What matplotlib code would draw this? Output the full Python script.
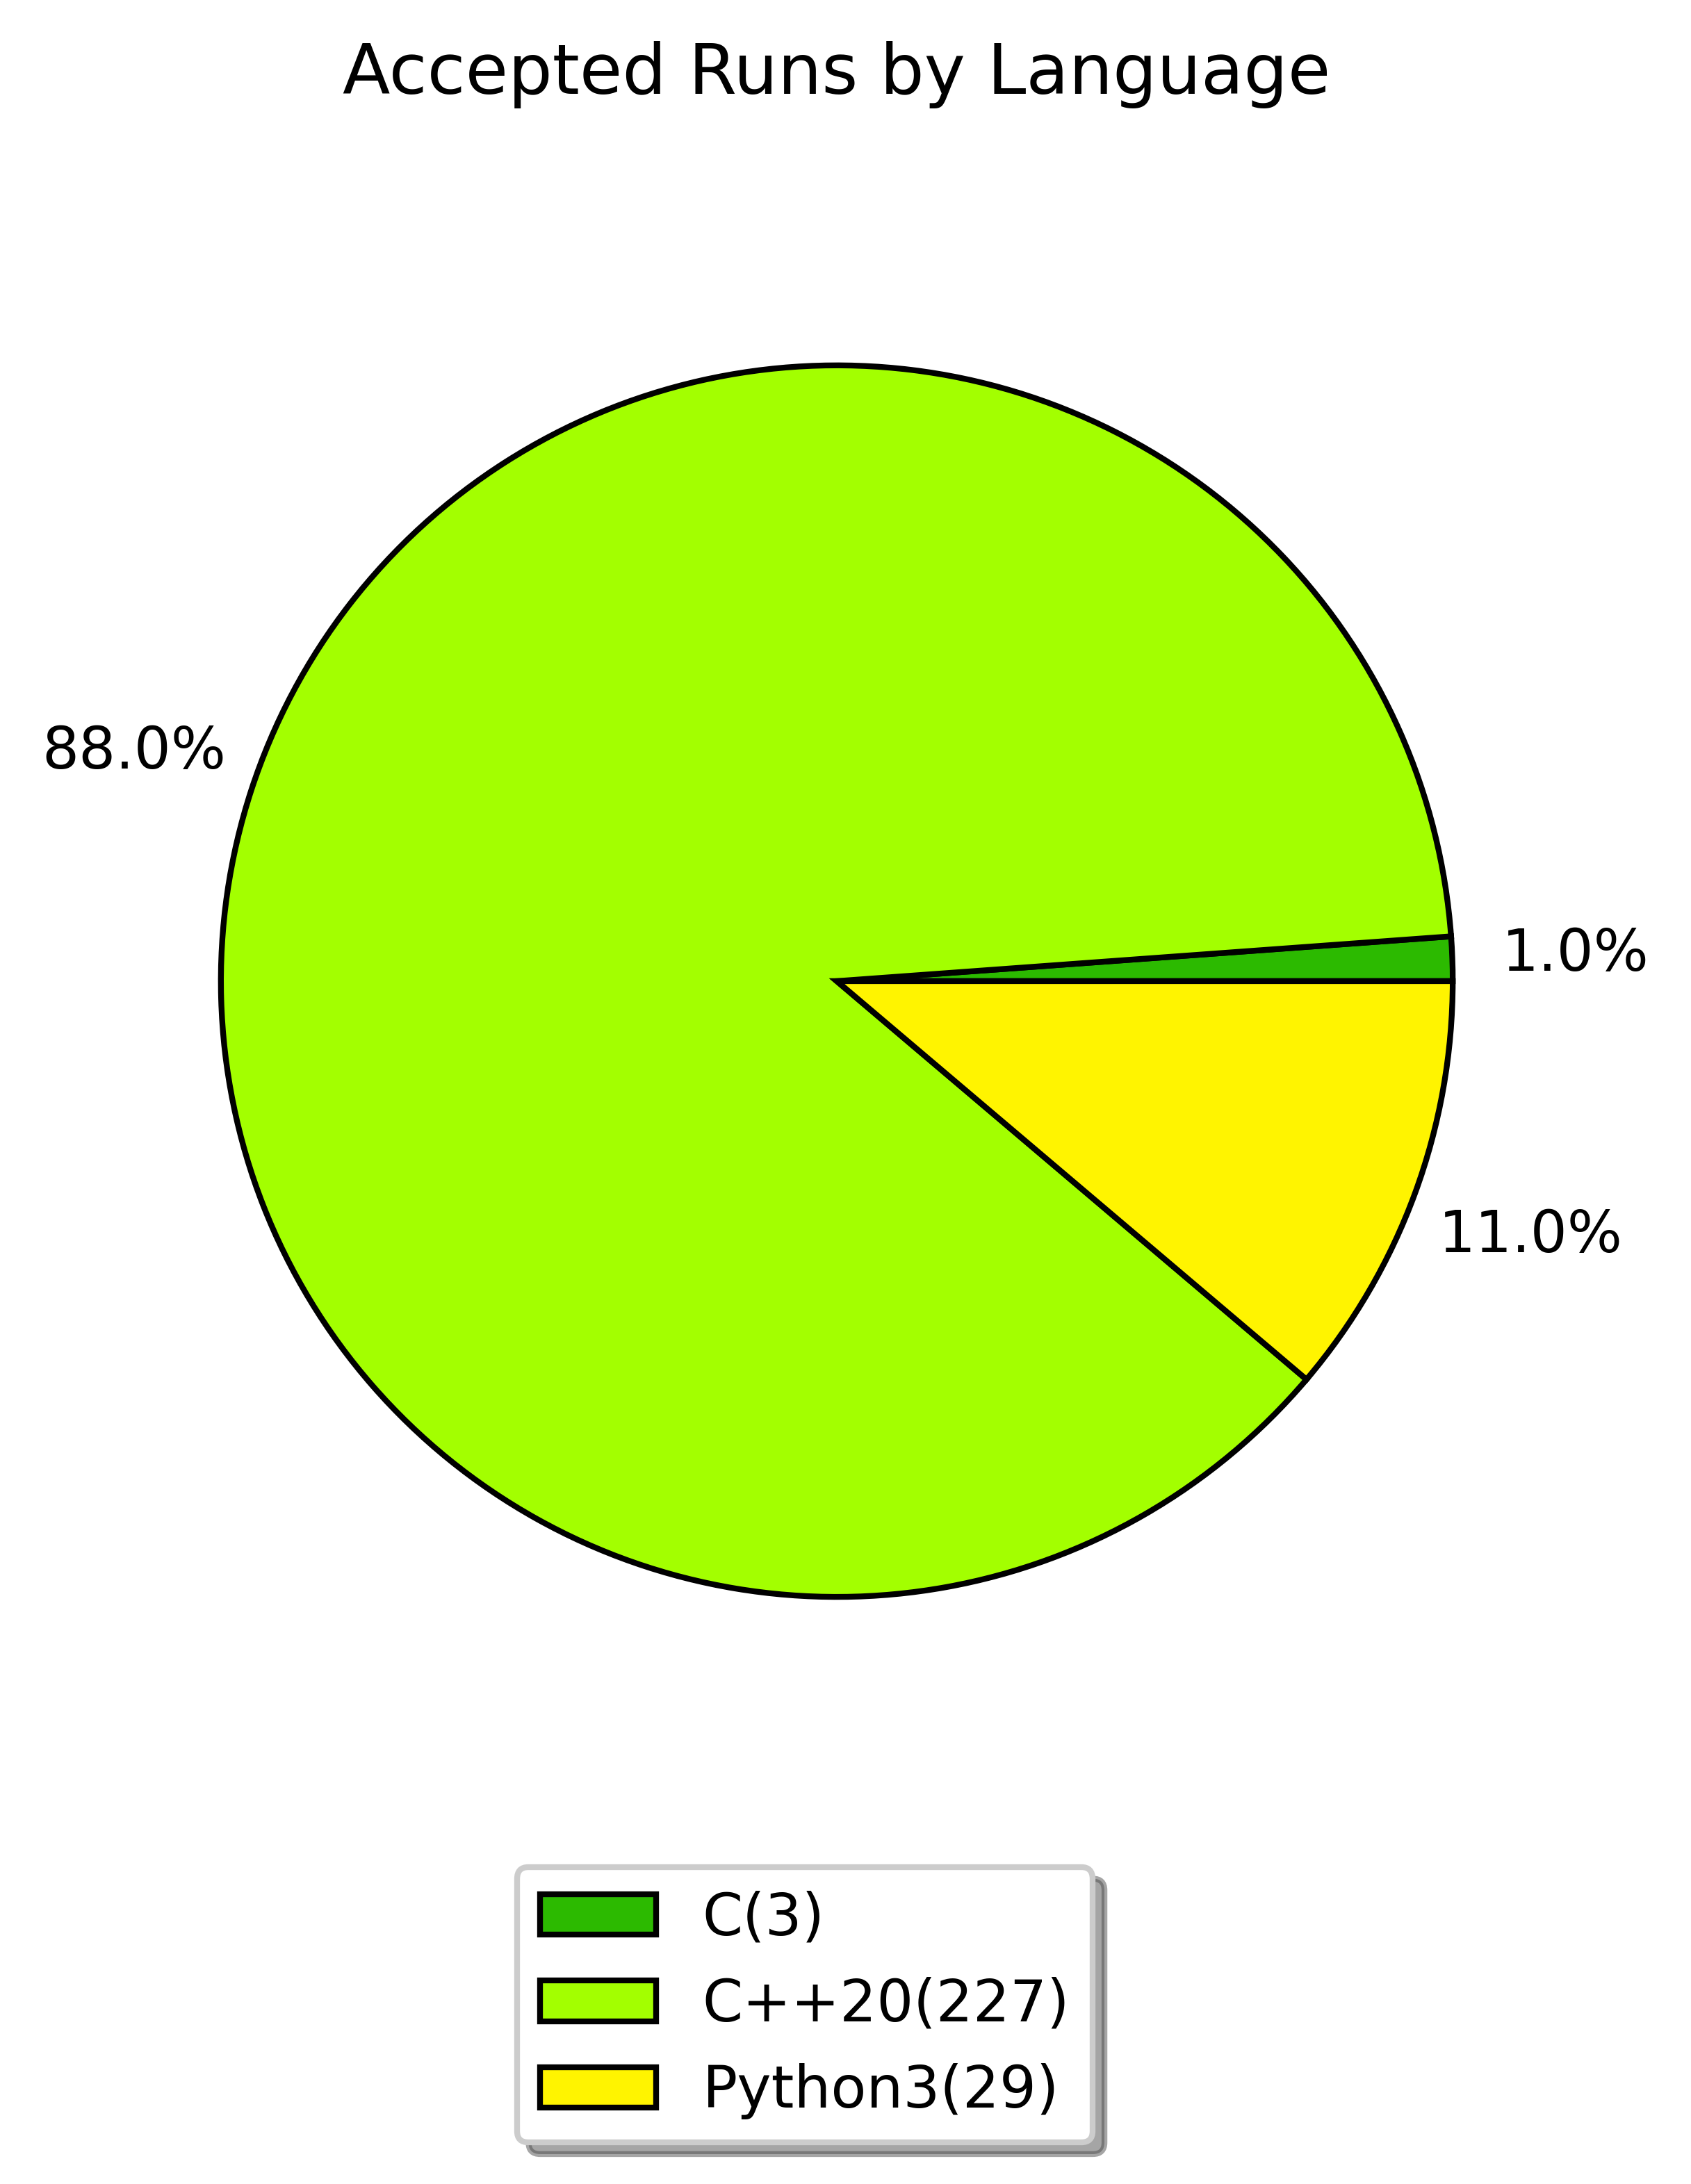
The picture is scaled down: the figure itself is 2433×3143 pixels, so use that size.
import matplotlib
matplotlib.use("Agg")
import matplotlib.pyplot as plt

languages = ["C", "C++20", "Python3"]
counts = [3, 227, 29]
colors = ["#2cba00", "#a3ff00", "#fff400"]

plt.rcParams['font.size'] = 20

fig = plt.figure(figsize=(8.11, 10.477), dpi=300)
ax = fig.add_axes([52 / 2433, 579 / 3143, 2304 / 2433, 2304 / 3143])

wedges, texts, autotexts = ax.pie(
    counts, colors=colors, startangle=0, counterclock=True,
    autopct=lambda p: f"{round(p):.1f}%", pctdistance=1.2,
    wedgeprops={"edgecolor": "black", "linewidth": 2})
ax.set_xlim(-1.3, 1.3)
ax.set_ylim(-1.3, 1.3)
ax.set_title("Accepted Runs by Language", pad=30)

labels = [f"{l}({c})" for l, c in zip(languages, counts)]
leg = fig.legend(wedges, labels, loc="lower center", bbox_to_anchor=(0.476, 0.019),
                 borderaxespad=0, shadow={"ox": 4, "oy": -4}, fancybox=True,
                 labelspacing=0.52)
leg.get_frame().set_linewidth(2)

fig.savefig("out.png", dpi=300)
